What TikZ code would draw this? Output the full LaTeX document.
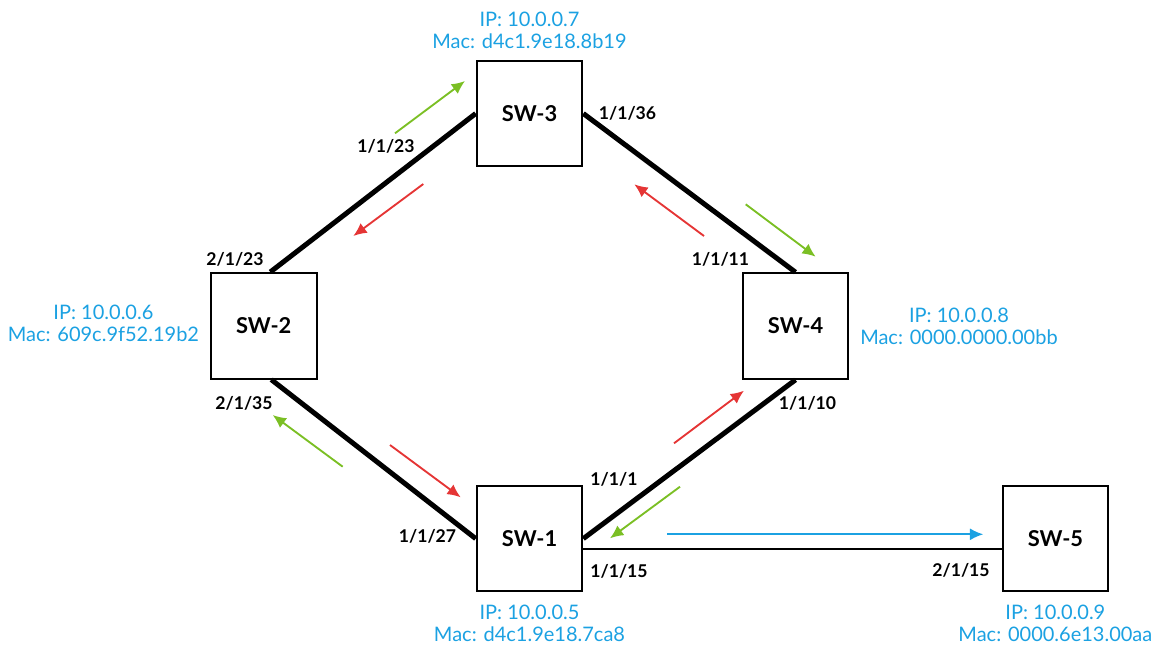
\documentclass[tikz,border=0pt]{standalone}
\usepackage{fontspec}
\setmainfont{Lato}
\usetikzlibrary{positioning,calc,arrows.meta}
\definecolor{ipblue}{HTML}{1BA1E2}
\definecolor{flowg}{HTML}{7BBF24}
\definecolor{flowr}{HTML}{E53535}
\tikzset{
  sw/.style      ={draw=black, line width=1.5pt, fill=white, minimum size=79.2pt,
                   inner sep=0pt, font=\fontsize{16.4}{18}\selectfont\bfseries},
  port/.style    ={font=\fontsize{13.2}{15}\selectfont\bfseries, inner sep=0pt},
  addr/.style    ={text=ipblue, align=center, inner sep=0pt,
                   font=\fontsize{15}{16.5}\selectfont},
  trunk/.style   ={line width=3.75pt, draw=black},
  access/.style  ={line width=1.7pt, draw=black},
  flowgrn/.style ={-{Latex[length=10pt,width=9pt]}, line width=1.4pt, draw=flowg},
  flowred/.style ={-{Latex[length=10pt,width=9pt]}, line width=1.4pt, draw=flowr},
  flowblu/.style ={-{Latex[length=10pt,width=9pt]}, line width=1.4pt, draw=ipblue},
}

\begin{document}
\begin{tikzpicture}[x=0.75pt, y=-0.75pt]

  \useasboundingbox (0,0) rectangle (1156,644);

  % ---- switches ----
  \node[sw] (sw3) at (529.5,113.5) {SW-3};
  \node[sw] (sw2) at (263.7,325.8) {SW-2};
  \node[sw] (sw4) at (795.5,326.0) {SW-4};
  \node[sw] (sw1) at (529.5,538.6) {SW-1};
  \node[sw] (sw5) at (1055.4,538.6) {SW-5};

  % ---- links ----
  \draw[trunk] (sw3.west) -- (sw2.83);
  \draw[trunk] (sw3.east) -- (sw4.north);
  \draw[trunk] (sw2.-82) -- (sw1.west);
  \draw[trunk] (sw1.east) -- (sw4.south);
  \draw[access] (sw1.-11) -- (sw5.191);

  % ---- port labels ----
  \node[port] (p3a) at (386.0,146.0) {1/1/23};
  \node[port] (p3b) at (627.5,113.0) {1/1/36};
  \node[port] (p2a) at (235.0,259.0) {2/1/23};
  \node[port] (p2b) at (244.0,403.0) {2/1/35};
  \node[port] (p4a) at (720.5,259.0) {1/1/11};
  \node[port] (p4b) at (807.5,403.0) {1/1/10};
  \node[port] (p1a) at (614.0,479.0) {1/1/1};
  \node[port] (p1b) at (619.0,571.0) {1/1/15};
  \node[port] (p1c) at (427.5,536.7) {1/1/27};
  \node[port] (p5a) at (961.0,570.0) {2/1/15};

  % ---- addresses ----
  \node[addr, anchor=south] (a3) at (529.5,49.3) {IP: 10.0.0.7\\Mac: d4c1.9e18.8b19};
  \node[addr, anchor=east]  (a2) at (199.3,323.8) {IP: 10.0.0.6\\Mac: 609c.9f52.19b2};
  \node[addr, anchor=west]  (a4) at (860.0,326.0) {IP: 10.0.0.8\\Mac: 0000.0000.00bb};
  \node[addr, anchor=north] (a1) at (529.5,605.0) {IP: 10.0.0.5\\Mac: d4c1.9e18.7ca8};
  \node[addr, anchor=north] (a5) at (1055.4,605.0) {IP: 10.0.0.9\\Mac: 0000.6e13.00aa};

  % ---- traffic direction ----
  \coordinate (g32s) at (395.0,133.3);  \coordinate (g32e) at (465.0,81.0);
  \coordinate (r32s) at (423.3,184.0);  \coordinate (r32e) at (353.3,236.0);
  \coordinate (r34s) at (704.0,236.0);  \coordinate (r34e) at (634.3,184.3);
  \coordinate (g34s) at (745.7,204.3);  \coordinate (g34e) at (815.7,256.7);
  \coordinate (g21s) at (342.7,466.7);  \coordinate (g21e) at (272.7,415.0);
  \coordinate (r21s) at (390.0,445.0);  \coordinate (r21e) at (460.7,497.3);
  \coordinate (r14s) at (674.0,443.3);  \coordinate (r14e) at (744.0,390.7);
  \coordinate (g14s) at (680.0,486.7);  \coordinate (g14e) at (610.0,538.3);
  \coordinate (b15s) at (667.3,534.3);  \coordinate (b15e) at (983.3,534.3);

  \draw[flowgrn] (g32s) -- (g32e);
  \draw[flowred] (r32s) -- (r32e);
  \draw[flowred] (r34s) -- (r34e);
  \draw[flowgrn] (g34s) -- (g34e);
  \draw[flowgrn] (g21s) -- (g21e);
  \draw[flowred] (r21s) -- (r21e);
  \draw[flowred] (r14s) -- (r14e);
  \draw[flowgrn] (g14s) -- (g14e);
  \draw[flowblu] (b15s) -- (b15e);

\end{tikzpicture}
\end{document}
